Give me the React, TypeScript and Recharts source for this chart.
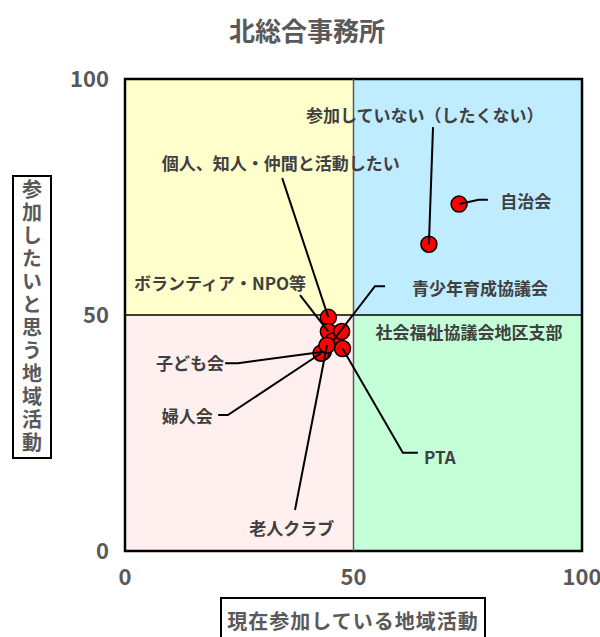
import { ScatterChart, Scatter, XAxis, YAxis, ReferenceArea, ReferenceLine } from 'recharts';

// Groups and their scores (x: current participation, y: desired participation)
const groups = [
    '参加していない（したくない）',
    '自治会',
    '個人、知人・仲間と活動したい',
    'ボランティア・NPO等',
    '青少年育成協議会',
    '社会福祉協議会地区支部',
    '子ども会',
    '婦人会',
    'PTA',
    '老人クラブ',
];
const currentScore = [66.5, 73.1, 44.5, 44.5, 45.5, 47.4, 43.4, 42.9, 47.6, 44.2];
const desiredScore = [65.0, 73.5, 49.5, 46.5, 44.5, 46.5, 42.2, 41.9, 42.9, 43.6];

const axisTicks = [0, 50, 100];

// Label placement in data units, plus leader line bends (from label side toward the point)
const labelAt: [number, number][] = [
    [65.6, 92.4], [87.7, 74.2], [34.1, 82.4], [20.8, 56.8], [77.7, 55.9],
    [75.3, 46.4], [14.2, 40.0], [13.6, 28.8], [68.9, 20.1], [36.5, 4.9],
];
const leaderBends: [number, number][][] = [
    [[67.4, 89.8]],
    [[79.4, 74.4], [77.4, 74.4]],
    [[34.4, 79.0]],
    [[38.3, 54.2]],
    [[56.9, 56.1], [54.7, 56.1]],
    [],
    [[21.9, 39.8], [24.7, 39.8]],
    [[20.4, 28.8], [22.5, 28.8]],
    [[64.1, 20.8], [60.8, 20.8]],
    [[37.2, 8.7]],
];

const points = groups.map((name, i) => ({ name, x: currentScore[i], y: desiredScore[i] }));
const labels = groups.map((name, i) => ({ name, x: labelAt[i][0], y: labelAt[i][1] }));

const FONT = '"Noto Sans CJK JP", "Noto Sans", sans-serif';

const LabelShape = (props: any) => {
    const { cx, cy } = props;
    const name = props.payload?.name ?? props.name;
    return (
        <text x={cx} y={cy} textAnchor="middle" dominantBaseline="central"
            fontFamily={FONT} fontWeight={700} fontSize={17} fill="#404040">
            {name}
        </text>
    );
};

const Dot = (props: any) => (
    <circle cx={props.cx} cy={props.cy} r={8} fill="#FF0000" stroke="#000" strokeWidth={1.5} />
);

export default function App() {
    return (
        <div style={{ position: 'absolute', left: 0, top: 0, width: 600, height: 637, background: '#fff', fontFamily: FONT }}>
            <div style={{ position: 'absolute', left: 0, top: 11, width: 614, textAlign: 'center', fontSize: 26, fontWeight: 700, color: '#595959' }}>
                北総合事務所
            </div>

            <ScatterChart width={600} height={637} margin={{ top: 79, right: 18, bottom: 46, left: 0 }}>
                <XAxis type="number" dataKey="x" domain={[0, 100]} ticks={axisTicks} height={40}
                    axisLine={false} tickLine={false} tickSize={0} tickMargin={18}
                    tick={{ fill: '#595959', fontSize: 22, fontWeight: 700, fontFamily: FONT }} />
                <YAxis type="number" dataKey="y" domain={[0, 100]} ticks={axisTicks} width={125}
                    axisLine={false} tickLine={false} tickSize={0} tickMargin={16}
                    tick={{ fill: '#595959', fontSize: 22, fontWeight: 700, fontFamily: FONT }} />

                <ReferenceArea x1={0} x2={50} y1={50} y2={100} fill="#FFFFCC" fillOpacity={1} stroke="none" />
                <ReferenceArea x1={50} x2={100} y1={50} y2={100} fill="#C0ECFF" fillOpacity={1} stroke="none" />
                <ReferenceArea x1={0} x2={50} y1={0} y2={50} fill="#FFEFEF" fillOpacity={1} stroke="none" />
                <ReferenceArea x1={50} x2={100} y1={0} y2={50} fill="#C4FFD8" fillOpacity={1} stroke="none" />
                <ReferenceLine x={50} stroke="#595959" strokeWidth={1.5} />
                <ReferenceLine y={50} stroke="#000" strokeWidth={1.5} />
                <ReferenceArea x1={0} x2={100} y1={0} y2={100} fill="none" stroke="#000" strokeWidth={2.5} />

                <Scatter data={points} shape={<Dot />} isAnimationActive={false} />

                {leaderBends.map((bends, i) => bends.length === 0 ? null : (
                    <Scatter key={groups[i]}
                        data={[...bends.map(([x, y]) => ({ x, y })), { x: currentScore[i], y: desiredScore[i] }]}
                        line={{ stroke: '#000', strokeWidth: 2 }}
                        shape={() => <g />}
                        isAnimationActive={false} />
                ))}

                <Scatter data={labels} shape={<LabelShape />} isAnimationActive={false} />
            </ScatterChart>

            <div style={{
                position: 'absolute', left: 12, top: 175, width: 36, height: 280, border: '2px solid #000',
                display: 'flex', alignItems: 'center', justifyContent: 'center', background: '#fff',
            }}>
                <span style={{ writingMode: 'vertical-rl', fontSize: 20, fontWeight: 700, color: '#595959', letterSpacing: 3 }}>
                    参加したいと思う地域活動
                </span>
            </div>

            <div style={{
                position: 'absolute', left: 220, top: 597, width: 266, height: 44, border: '2px solid #000',
                display: 'flex', alignItems: 'center', justifyContent: 'center', background: '#fff',
                boxSizing: 'border-box',
            }}>
                <span style={{ fontSize: 20, fontWeight: 700, color: '#595959', letterSpacing: 1, marginTop: 2 }}>
                    現在参加している地域活動
                </span>
            </div>
        </div>
    );
}
